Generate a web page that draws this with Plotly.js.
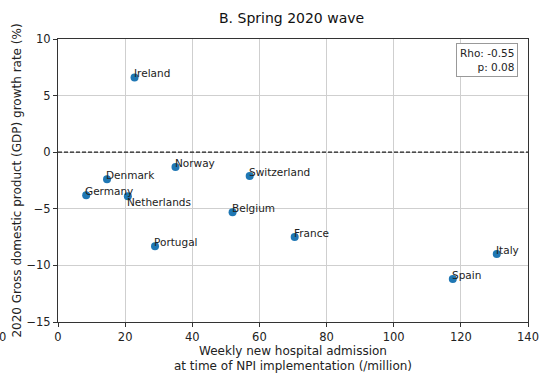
<!DOCTYPE html>
<html><head><meta charset="utf-8">
<script src="https://cdn.plot.ly/plotly-3.0.1.min.js"></script>
<style>body{margin:0;background:#fff}#c{width:545px;height:375px}</style>
</head><body><div id="c"></div>
<script>
const countries = ["Ireland","Norway","Denmark","Switzerland","Germany","Netherlands","Belgium","France","Portugal","Italy","Spain"];
const admissions = [22.8, 35.0, 14.6, 57.1, 8.4, 20.8, 52.0, 70.5, 28.9, 130.7, 117.6];
const gdpGrowth = [6.6, -1.3, -2.4, -2.1, -3.8, -3.9, -5.3, -7.5, -8.3, -9.0, -11.2];
const labelBelow = [false,false,false,false,false,true,false,false,false,false,false];
const xTicks = [0,20,40,60,80,100,120,140];
const yTicks = [-15,-10,-5,0,5,10];
const statText = "Rho: -0.55<br>p: 0.08";

const font = "DejaVu Sans, sans-serif";
const labelAnns = countries.map((c,i)=>({
  x: admissions[i], y: gdpGrowth[i], xref:'x', yref:'y', text:c, showarrow:false,
  xanchor:'left', yanchor: labelBelow[i] ? 'top' : 'bottom', xshift:-3, yshift: labelBelow[i] ? 2 : -4,
  font:{family:font,size:10.5,color:'#222'}
}));

const trace = {x: admissions, y: gdpGrowth, mode:'markers', type:'scatter',
  marker:{color:'#1f77b4', size:8}, hoverinfo:'skip', showlegend:false};

const layout = {
  width:545, height:375,
  margin:{l:58, r:17, t:39, b:53},
  paper_bgcolor:'#fff', plot_bgcolor:'#fff',
  font:{family:font, size:11, color:'#222'},
  title:{text:'B. Spring 2020 wave', font:{family:font,size:14,color:'#111'}, x:0.535, xanchor:'center', y:0.952, yanchor:'middle'},
  xaxis:{range:[0,140], tickvals:xTicks, ticktext:xTicks.map(String), showgrid:true, gridcolor:'#cfcfcf',
    zeroline:false, showline:true, linecolor:'#333', linewidth:1, mirror:true, ticks:'outside', ticklen:4, tickcolor:'#333',
    tickfont:{size:11.5}, automargin:false,
    title:{text:'Weekly new hospital admission<br>at time of NPI implementation (/million)', font:{size:12}, standoff:0}},
  yaxis:{range:[-15,10], tickvals:yTicks, ticktext:yTicks.map(v=>v<0?'\u2212'+Math.abs(v):String(v)), showgrid:true, gridcolor:'#cfcfcf',
    zeroline:false, showline:true, linecolor:'#333', linewidth:1, mirror:true, ticks:'outside', ticklen:4, tickcolor:'#333',
    tickfont:{size:11.5}, automargin:false,
    title:{text:'2020 Gross domestic product (GDP) growth rate (%)', font:{size:12}, standoff:2}},
  shapes:[{type:'line', xref:'paper', x0:0, x1:1, yref:'y', y0:0, y1:0, line:{color:'#222', width:1.2, dash:'4px,2px'}}],
  annotations: labelAnns.concat([
    {xref:'paper', yref:'paper', x:0.978, y:0.985, xanchor:'right', yanchor:'top', text:statText, align:'right', showarrow:false,
     bordercolor:'#999', borderwidth:1, borderpad:3, bgcolor:'#fff', font:{family:font,size:10.5,color:'#222'}},
    {xref:'paper', yref:'paper', x:-0.118, y:-0.02, xanchor:'center', yanchor:'top', text:'0', showarrow:false, font:{family:font,size:11.5,color:'#222'}}
  ])
};
Plotly.newPlot('c',[trace],layout,{staticPlot:true});
</script></body></html>
